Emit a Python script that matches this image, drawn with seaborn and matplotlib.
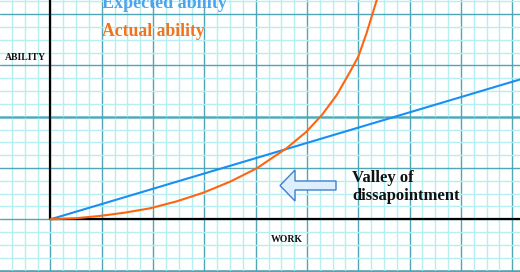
import matplotlib
matplotlib.use("Agg")
import matplotlib.pyplot as plt
import matplotlib.patches as mpatches
import seaborn as sns
import pandas as pd
import numpy as np

# ---- data (graph units: one major grid square = 1) ----
work_expected = [0.0, 9.2]
ability_expected = [0.0, 2.74]

work_actual = [0.0, 0.48, 0.96, 1.45, 1.94, 2.46, 2.98, 3.50, 4.02, 4.60, 4.99, 5.29, 5.58,
               5.84, 6.00, 6.16, 6.29, 6.36, 6.40]
ability_actual = [0.0, 0.02, 0.065, 0.13, 0.214, 0.35, 0.519, 0.733, 0.994, 1.384, 1.708,
                  2.033, 2.423, 2.877, 3.170, 3.626, 4.047, 4.275, 4.40]

label_expected = "Expected ability"
label_actual = "Actual ability"
x_label = "WORK"
y_label = "ABILITY"
note_lines = ["Valley of", "dissapointment"]

sns.set_theme(style="white")
plt.rcParams['font.family'] = ['Liberation Serif', 'DejaVu Serif']

W, H = 520, 272
fig = plt.figure(figsize=(W / 100, H / 100), dpi=100)
ax = fig.add_axes([0, 0, 1, 1])

unit = 51.3
x0, y0 = 50.5, 219.3

df_e = pd.DataFrame({"work": work_expected, "ability": ability_expected})
df_a = pd.DataFrame({"work": work_actual, "ability": ability_actual})
sns.lineplot(data=df_e, x="work", y="ability", ax=ax, color="#1a8ef2", lw=1.5, zorder=4)
sns.lineplot(data=df_a, x="work", y="ability", ax=ax, color="#ff6510", lw=1.5, zorder=4, sort=False)
ax.set_xlabel("")
ax.set_ylabel("")

# axes lines
ax.plot([0, 0], [0, 10], color="black", lw=1.6, zorder=3, solid_capstyle="butt")
ax.plot([0, 10], [0, 0], color="black", lw=1.6, zorder=3)

# graph paper grid
ax.set_xticks(np.arange(-1, 10, 1))
ax.set_xticks(np.arange(-1, 10, 0.25), minor=True)
ax.set_yticks(np.arange(-1, 5, 1))
ax.set_yticks(np.arange(-1, 5, 0.25), minor=True)
ax.grid(which="minor", color="#b6eef2", lw=1.0)
ax.grid(which="major", color="#4fa6b6", lw=1.0)
ax.axhline(2, color="#8ccad4", lw=2.2, zorder=0.5)
ax.axhline(-1, color="#7fb6c0", lw=2.2, zorder=0.5)
ax.tick_params(which="both", length=0, labelbottom=False, labelleft=False)
for s in ax.spines.values():
    s.set_visible(False)
ax.set_axisbelow(True)
ax.set_xlim(-x0 / unit, (W - x0) / unit)
ax.set_ylim(-(H - y0) / unit, y0 / unit)

# arrow
tip = (280 - x0) / unit
tail = (336 - x0) / unit
ay = (y0 - 185.5) / unit
arr = mpatches.FancyArrow(tail, ay, tip - tail, 0, width=9 / unit, head_width=31 / unit,
                          head_length=15 / unit, length_includes_head=True,
                          fc="#ddeeff", ec="#3d7fd0", lw=1.0, zorder=5)
ax.add_patch(arr)

def px(x, y):
    return x / W, 1 - y / H

fig.text(*px(102, 8), label_expected, color="#4da4ee", fontsize=13, fontweight="bold",
         ha="left", va="baseline")
fig.text(*px(102, 36), label_actual, color="#f07420", fontsize=12.7, fontweight="bold",
         ha="left", va="baseline")
fig.text(*px(352, 182), note_lines[0], color="#111111", fontsize=12, fontweight="bold",
         ha="left", va="baseline")
fig.text(*px(352, 200), note_lines[1], color="#111111", fontsize=12, fontweight="bold",
         ha="left", va="baseline")
fig.text(*px(25, 58), y_label, color="#111111", fontsize=7, fontweight="bold",
         ha="center", va="center")
fig.text(*px(286.5, 240), x_label, color="#111111", fontsize=7, fontweight="bold",
         ha="center", va="center")

fig.savefig("out.png", dpi=100)
